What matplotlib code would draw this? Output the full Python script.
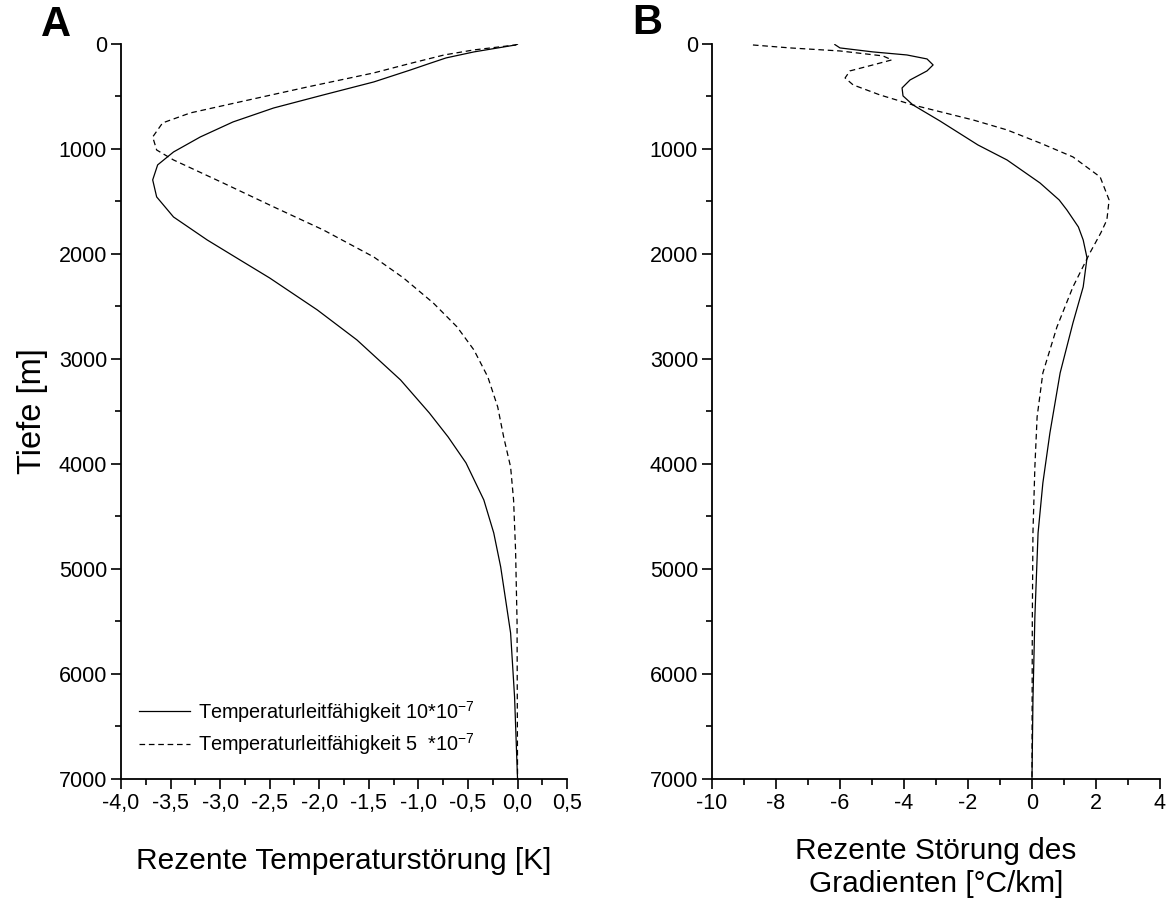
import numpy as np
import matplotlib.pyplot as plt
from matplotlib.ticker import MultipleLocator, FuncFormatter

plt.rcParams['font.family'] = ['Liberation Sans', 'DejaVu Sans']
plt.rcParams['mathtext.fontset'] = 'custom'
plt.rcParams['mathtext.rm'] = 'Liberation Sans'
plt.rcParams['mathtext.default'] = 'regular'
plt.rcParams['axes.unicode_minus'] = False

# A: temperature disturbance [K] vs depth [m]
depth_a1 = [0, 10, 76, 133, 190, 248, 362, 486, 610, 743, 886, 1029, 1152, 1295,
            1457, 1648, 1867, 2057, 2229, 2533, 2819, 3200, 3514, 3743, 3990,
            4343, 4657, 4981, 5295, 5610, 6219, 7000]
temp_a1 = [0.0, -0.02, -0.44, -0.72, -0.90, -1.08, -1.45, -1.96, -2.46, -2.87,
           -3.20, -3.47, -3.63, -3.68, -3.64, -3.47, -3.13, -2.80, -2.50, -2.02,
           -1.62, -1.18, -0.89, -0.70, -0.52, -0.34, -0.24, -0.17, -0.12, -0.07,
           -0.03, 0.0]

depth_a2 = [0, 10, 57, 105, 190, 276, 410, 552, 657, 752, 886, 1010, 1105, 1324,
            1552, 1771, 2029, 2229, 2467, 2695, 2914, 3171, 3457, 3743, 4029,
            4343, 4819, 5500, 7000]
temp_a2 = [0.0, -0.02, -0.44, -0.74, -1.10, -1.45, -2.12, -2.80, -3.30, -3.58,
           -3.68, -3.64, -3.47, -2.97, -2.46, -1.96, -1.45, -1.15, -0.85, -0.61,
           -0.44, -0.30, -0.20, -0.14, -0.07, -0.04, -0.02, -0.005, 0.0]

# B: gradient disturbance [degC/km] vs depth [m]
depth_b1 = [6, 38, 76, 105, 143, 200, 257, 343, 419, 495, 581, 733, 962, 1105,
            1324, 1486, 1581, 1743, 1867, 2038, 2314, 2657, 3133, 3705, 4181,
            4657, 5457, 6248, 7000]
grad_b1 = [-6.16, -6.0, -4.97, -3.91, -3.28, -3.09, -3.28, -3.81, -4.06, -4.03,
           -3.72, -2.88, -1.69, -0.78, 0.25, 0.85, 1.09, 1.45, 1.60, 1.72, 1.60,
           1.28, 0.88, 0.56, 0.34, 0.19, 0.09, 0.03, 0.0]

depth_b2 = [10, 38, 67, 114, 152, 200, 257, 324, 390, 486, 581, 724, 819, 943,
            1076, 1267, 1486, 1676, 1800, 1990, 2314, 2695, 3133, 3552, 4029,
            4657, 5500, 7000]
grad_b2 = [-8.72, -7.56, -6.0, -4.66, -4.38, -4.97, -5.69, -5.84, -5.59, -4.75,
           -3.72, -1.84, -0.78, 0.25, 1.28, 2.13, 2.41, 2.34, 2.15, 1.81, 1.28,
           0.78, 0.34, 0.16, 0.09, 0.03, 0.01, 0.0]

label1 = 'Temperaturleitfähigkeit 10*10$^{-7}$'
label2 = 'Temperaturleitfähigkeit 5  *10$^{-7}$'

fig = plt.figure(figsize=(11.71, 9.02), dpi=100)
ax1 = fig.add_axes([0.1033, 0.1364, 0.381, 0.8149])
ax2 = fig.add_axes([0.608, 0.1364, 0.3826, 0.8149])

dash = (0, (4.5, 3))
ax1.plot(temp_a1, depth_a1, color='black', lw=0.9, label=label1)
ax1.plot(temp_a2, depth_a2, color='black', lw=0.9, ls=dash, label=label2)
ax2.plot(grad_b1, depth_b1, color='black', lw=0.9)
ax2.plot(grad_b2, depth_b2, color='black', lw=0.9, ls=dash)

comma = FuncFormatter(lambda v, p: ('%.1f' % v).replace('.', ','))

for ax in (ax1, ax2):
    ax.set_ylim(7000, 0)
    ax.yaxis.set_major_locator(MultipleLocator(1000))
    ax.yaxis.set_minor_locator(MultipleLocator(500))
    for s in ('top', 'right'):
        ax.spines[s].set_visible(False)
    for s in ('left', 'bottom'):
        ax.spines[s].set_linewidth(1.3)
    ax.tick_params(which='major', direction='out', length=7, width=1.2,
                   labelsize=15.5, pad=3)
    ax.tick_params(which='minor', direction='out', length=4, width=1.2)

ax1.set_xlim(-4.0, 0.5)
ax1.xaxis.set_major_locator(MultipleLocator(0.5))
ax1.xaxis.set_minor_locator(MultipleLocator(0.25))
ax1.xaxis.set_major_formatter(comma)

ax2.set_xlim(-10, 4)
ax2.xaxis.set_major_locator(MultipleLocator(2))
ax2.xaxis.set_minor_locator(MultipleLocator(1))

ax1.set_ylabel('Tiefe [m]', fontsize=23.5, labelpad=8)
ax1.set_xlabel('Rezente Temperaturstörung [K]', fontsize=21.5, labelpad=24)
ax2.set_xlabel('Rezente Störung des\nGradienten [°C/km]', fontsize=21.5,
               labelpad=17, linespacing=1.2)

ax1.legend(loc='lower left', bbox_to_anchor=(0.0, 0.005), frameon=False,
           fontsize=14.3, handlelength=2.6, handletextpad=0.4, labelspacing=0.35)

fig.text(0.048, 0.972, 'A', fontsize=30, fontweight='bold', ha='center', va='center')
fig.text(0.553, 0.974, 'B', fontsize=30, fontweight='bold', ha='center', va='center')

fig.savefig('out.png', dpi=100)
